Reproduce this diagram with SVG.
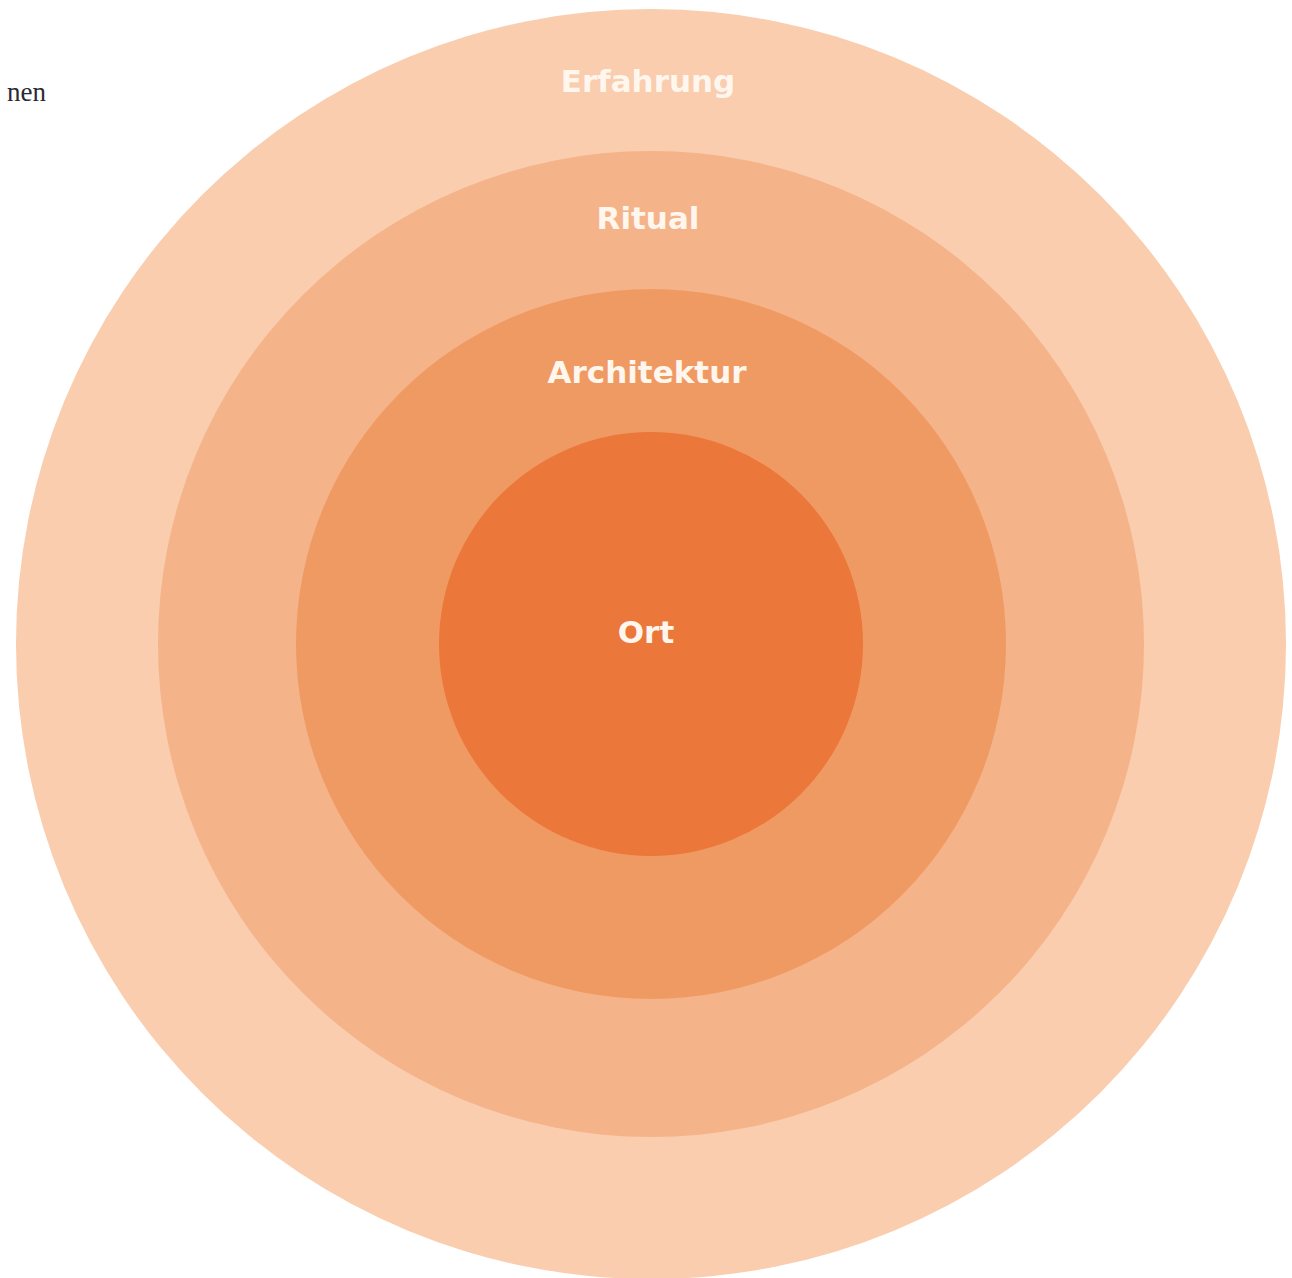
<svg xmlns="http://www.w3.org/2000/svg" width="1292" height="1278" viewBox="0 0 1292 1278">
  <style>
    .ring-label { font-family: "DejaVu Sans", "Liberation Sans", sans-serif; font-weight: bold; font-size: 31px; fill: #FFF6EE; text-anchor: middle; }
    .side-text { font-family: "Liberation Serif", "DejaVu Serif", serif; font-size: 27px; fill: #2a2a35; }
  </style>
  <rect width="1292" height="1278" fill="#ffffff"/>
  <text class="side-text" x="46" y="101" text-anchor="end">nen</text>

  <g id="erfahrung">
    <circle cx="651" cy="644" r="635" fill="#F9CDAE"/>
    <text class="ring-label" x="648" y="92">Erfahrung</text>
  </g>
  <g id="ritual">
    <circle cx="651" cy="644" r="493" fill="#F5B38A"/>
    <text class="ring-label" x="648" y="229">Ritual</text>
  </g>
  <g id="architektur">
    <circle cx="651" cy="644" r="355" fill="#F09A63"/>
    <text class="ring-label" x="647" y="383">Architektur</text>
  </g>
  <g id="ort">
    <circle cx="651" cy="644" r="212" fill="#EC773A"/>
    <text class="ring-label" x="646" y="643">Ort</text>
  </g>
  <g id="connectors"/>
</svg>
